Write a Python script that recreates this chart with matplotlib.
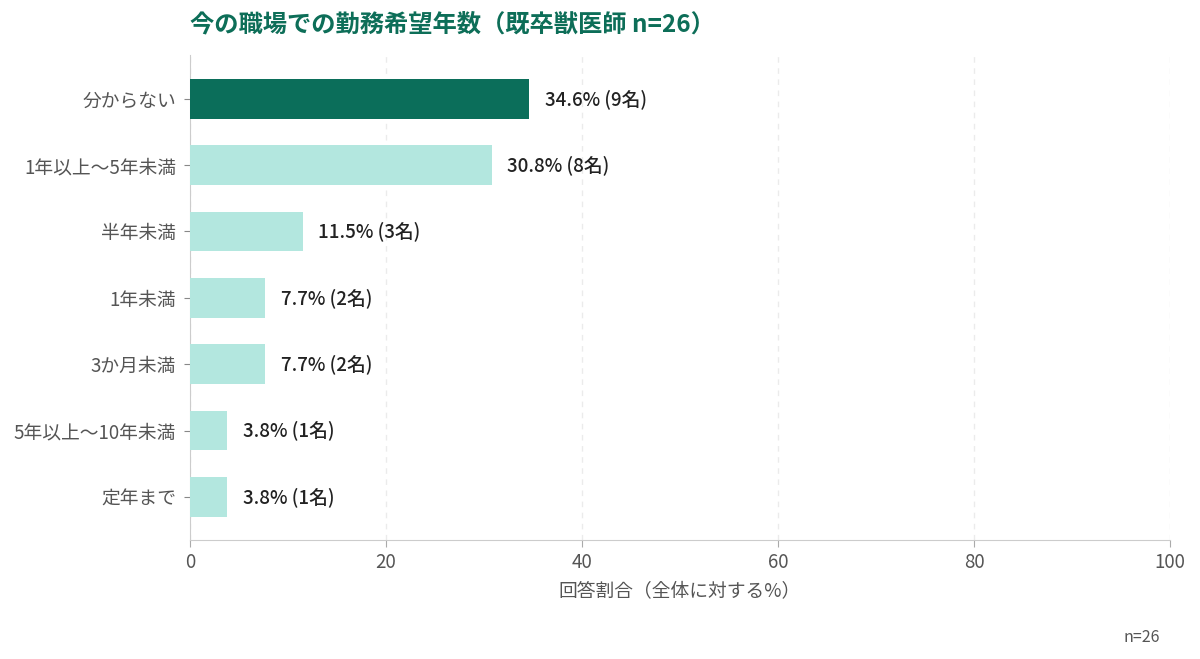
import matplotlib
matplotlib.use("Agg")
import matplotlib.pyplot as plt

plt.rcParams['font.family'] = ['Noto Sans CJK JP', 'DejaVu Sans']

categories = ["分からない", "1年以上〜5年未満", "半年未満", "1年未満", "3か月未満", "5年以上〜10年未満", "定年まで"]
percents = [34.6, 30.8, 11.5, 7.7, 7.7, 3.8, 3.8]
counts = [9, 8, 3, 2, 2, 1, 1]
n_total = 26

dark = "#0b6e5a"
light = "#b3e7df"
colors = [dark] + [light] * (len(categories) - 1)

fig = plt.figure(figsize=(12, 6.59), dpi=100)
ax = fig.add_axes([0.1583, 0.1806, 0.8167, 0.7359])

y = list(range(len(categories)))
ax.barh(y, percents, height=0.6, color=colors, zorder=3)

for i, (p, c) in enumerate(zip(percents, counts)):
    ax.text(p + 1.6, i, f"{p}% ({c}名)", va="center", ha="left",
            fontsize=13.5, color="#222222", fontweight="medium")

ax.set_yticks(y)
ax.set_yticklabels(categories, fontsize=13.5, color="#555555")
ax.set_ylim(6.65, -0.66)
ax.set_xlim(0, 100)
ax.set_xticks([0, 20, 40, 60, 80, 100])
ax.tick_params(axis="x", labelsize=13.5, colors="#555555", length=5, color="#aaaaaa")
ax.tick_params(axis="y", length=4, color="#888888", pad=6)
ax.set_xlabel("回答割合（全体に対する%）", fontsize=13.5, color="#555555", labelpad=5)

ax.grid(axis="x", linestyle=(0, (4, 4)), color="#ebebeb", linewidth=1, zorder=0)
for s in ["top", "right"]:
    ax.spines[s].set_visible(False)
ax.spines["left"].set_color("#cccccc")
ax.spines["bottom"].set_color("#cccccc")

fig.text(190 / 1200, 1 - 24 / 659, f"今の職場での勤務希望年数（既卒獣医師 n={n_total}）",
         fontsize=17.5, fontweight="bold", color="#0d6e58", ha="left", va="center")
fig.text(1160 / 1200, 1 - 637 / 659, f"n={n_total}", fontsize=11.5, color="#555555",
         ha="right", va="center")

fig.savefig("out.png", dpi=100)
